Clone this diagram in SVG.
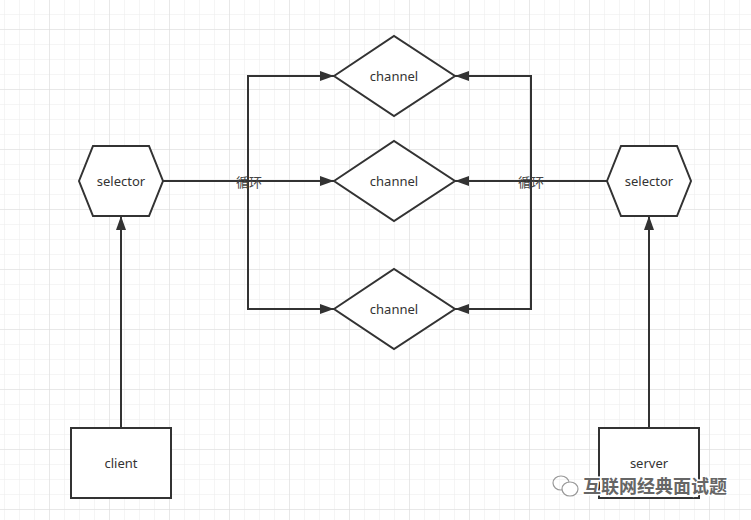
<svg xmlns="http://www.w3.org/2000/svg" width="751" height="520" viewBox="0 0 751 520">
<defs>
<pattern id="minor" x="4" y="14" width="15" height="15" patternUnits="userSpaceOnUse">
<path d="M0 0H15M0 0V15" fill="none" stroke="#ececec" stroke-width="1"/>
</pattern>
<pattern id="major" x="49" y="29" width="60" height="60" patternUnits="userSpaceOnUse">
<path d="M0 0H60M0 0V60" fill="none" stroke="#dcdcdc" stroke-width="1"/>
</pattern>
<marker id="arr" viewBox="0 0 14 10" refX="14" refY="5" markerWidth="14" markerHeight="10" markerUnits="userSpaceOnUse" orient="auto">
<path d="M0 0L14 5L0 10Z" fill="#333"/>
</marker>
</defs>
<style>
.shape{fill:#fff;stroke:#333;stroke-width:2}
.edge{fill:none;stroke:#333;stroke-width:2}
.lbl{font-family:"Noto Sans","Noto Sans CJK SC",sans-serif;font-size:13px;fill:#333;text-anchor:middle;dominant-baseline:central}
.elbl{font-family:"Noto Sans CJK SC","Noto Sans",sans-serif;font-size:13px;fill:#444;text-anchor:middle;dominant-baseline:central}
.wm{font-family:"Noto Sans CJK SC",sans-serif;font-size:18px;fill:#666;stroke:#fff;stroke-width:3;paint-order:stroke;font-weight:bold}
</style>
<rect width="751" height="520" fill="#fff"/>
<rect width="751" height="520" fill="url(#minor)"/>
<rect width="751" height="520" fill="url(#major)"/>

<g id="connectors">
<path class="edge" d="M163 181H334" marker-end="url(#arr)"/>
<path class="edge" d="M248 181V76H334" marker-end="url(#arr)"/>
<path class="edge" d="M248 181V309H334" marker-end="url(#arr)"/>
<path class="edge" d="M607 181H455" marker-end="url(#arr)"/>
<path class="edge" d="M531 181V76H455" marker-end="url(#arr)"/>
<path class="edge" d="M531 181V309H455" marker-end="url(#arr)"/>
<path class="edge" d="M121 428V216" marker-end="url(#arr)"/>
<path class="edge" d="M649 428V216" marker-end="url(#arr)"/>
<text class="elbl" x="249" y="181">循环</text>
<text class="elbl" x="531" y="181">循环</text>
</g>

<g id="selector-left">
<polygon class="shape" points="79,181 93,146 149,146 163,181 149,216 93,216"/>
<text class="lbl" x="121" y="181">selector</text>
</g>
<g id="selector-right">
<polygon class="shape" points="607,181 621,146 677,146 691,181 677,216 621,216"/>
<text class="lbl" x="649" y="181">selector</text>
</g>
<g id="channel-top">
<polygon class="shape" points="334,76 394,36 455,76 394,116"/>
<text class="lbl" x="394" y="76">channel</text>
</g>
<g id="channel-mid">
<polygon class="shape" points="334,181 394,141 455,181 394,221"/>
<text class="lbl" x="394" y="181">channel</text>
</g>
<g id="channel-bottom">
<polygon class="shape" points="334,309 394,269 455,309 394,349"/>
<text class="lbl" x="394" y="309">channel</text>
</g>
<g id="client">
<rect class="shape" x="71" y="428" width="100" height="70"/>
<text class="lbl" x="121" y="463">client</text>
</g>
<g id="server">
<rect class="shape" x="599" y="428" width="100" height="70"/>
<text class="lbl" x="649" y="463">server</text>
</g>

<g id="watermark">
<g fill="none" stroke="#999" stroke-width="1.2">
<ellipse cx="561" cy="483" rx="8" ry="7"/>
<ellipse cx="570" cy="489" rx="8" ry="7" fill="#fff"/>
</g>
<text class="wm" x="583" y="493">互联网经典面试题</text>
</g>
</svg>
